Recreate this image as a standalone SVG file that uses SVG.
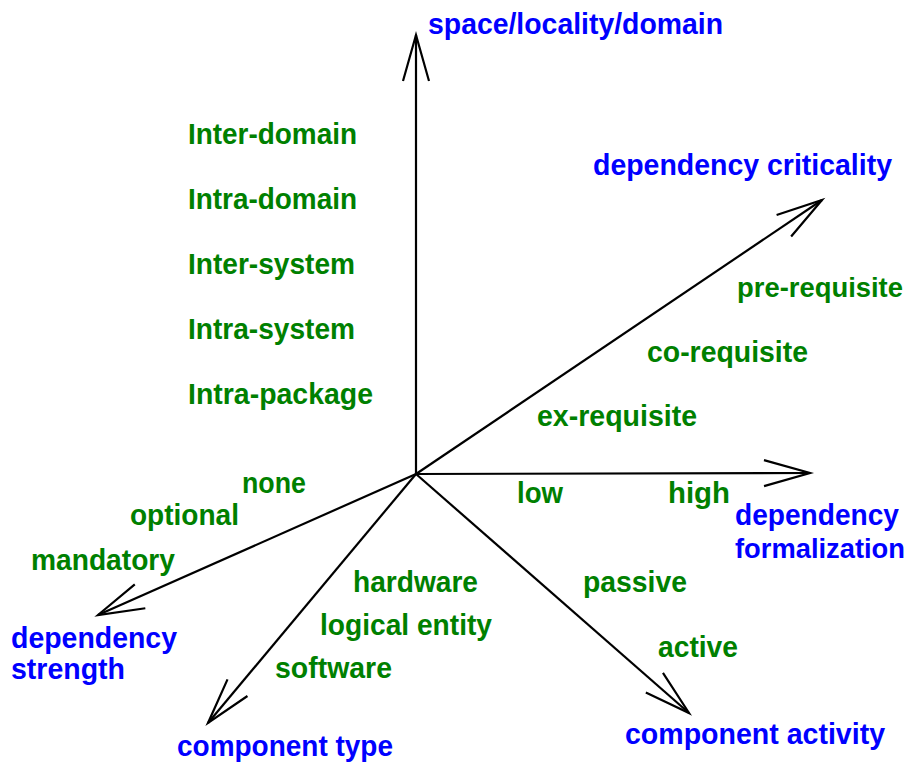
<svg xmlns="http://www.w3.org/2000/svg" width="912" height="766" viewBox="0 0 912 766">
<style>
text{font-family:"Liberation Sans",Arial,sans-serif;font-weight:bold;font-size:30px}
.ax{fill:#0000ff}
.v{fill:#008000}
.sm{font-size:28px}
.c line{stroke:#000;stroke-width:2.2;fill:none}
</style>
<defs>
<marker id="ah" markerUnits="userSpaceOnUse" markerWidth="60" markerHeight="40" viewBox="-50 -20 60 40" refX="0" refY="0" orient="auto">
<path d="M-46,-13 L0,0 L-46,13" fill="none" stroke="#000" stroke-width="2.2"/>
</marker>
</defs>
<rect width="912" height="766" fill="#fff"/>
<g id="connectors" class="c">
<line x1="416" y1="474" x2="416" y2="35" marker-end="url(#ah)"/>
<line x1="416" y1="474" x2="810" y2="473" marker-end="url(#ah)"/>
<line x1="416" y1="474" x2="822" y2="200" marker-end="url(#ah)"/>
<line x1="416" y1="474" x2="98" y2="615" marker-end="url(#ah)"/>
<line x1="416" y1="474" x2="208" y2="723" marker-end="url(#ah)"/>
<line x1="416" y1="474" x2="689" y2="713" marker-end="url(#ah)"/>
</g>
<g id="axis-space">
<text class="ax" x="428" y="34" textLength="295" lengthAdjust="spacingAndGlyphs">space/locality/domain</text>
<text class="v" x="188" y="144" textLength="169" lengthAdjust="spacingAndGlyphs">Inter-domain</text>
<text class="v" x="188" y="209" textLength="169" lengthAdjust="spacingAndGlyphs">Intra-domain</text>
<text class="v" x="188" y="274" textLength="167" lengthAdjust="spacingAndGlyphs">Inter-system</text>
<text class="v" x="188" y="339" textLength="167" lengthAdjust="spacingAndGlyphs">Intra-system</text>
<text class="v" x="188" y="404" textLength="185" lengthAdjust="spacingAndGlyphs">Intra-package</text>
</g>
<g id="axis-criticality">
<text class="ax" x="593" y="175" textLength="299" lengthAdjust="spacingAndGlyphs">dependency criticality</text>
<text class="v sm" x="737" y="297" textLength="166" lengthAdjust="spacingAndGlyphs">pre-requisite</text>
<text class="v" x="647" y="362" textLength="161" lengthAdjust="spacingAndGlyphs">co-requisite</text>
<text class="v" x="537" y="426" textLength="160" lengthAdjust="spacingAndGlyphs">ex-requisite</text>
</g>
<g id="axis-formalization">
<text class="ax" x="735" y="525" textLength="164" lengthAdjust="spacingAndGlyphs">dependency</text>
<text class="ax sm" x="735" y="558" textLength="170" lengthAdjust="spacingAndGlyphs">formalization</text>
<text class="v" x="517" y="503" textLength="46" lengthAdjust="spacingAndGlyphs">low</text>
<text class="v" x="668" y="503" textLength="62" lengthAdjust="spacingAndGlyphs">high</text>
</g>
<g id="axis-strength">
<text class="ax" x="11" y="648" textLength="166" lengthAdjust="spacingAndGlyphs">dependency</text>
<text class="ax" x="11" y="679" textLength="114" lengthAdjust="spacingAndGlyphs">strength</text>
<text class="v" x="242" y="493" textLength="64" lengthAdjust="spacingAndGlyphs">none</text>
<text class="v" x="130" y="525" textLength="109" lengthAdjust="spacingAndGlyphs">optional</text>
<text class="v" x="31" y="570" textLength="144" lengthAdjust="spacingAndGlyphs">mandatory</text>
</g>
<g id="axis-type">
<text class="ax" x="177" y="756" textLength="216" lengthAdjust="spacingAndGlyphs">component type</text>
<text class="v" x="353" y="592" textLength="125" lengthAdjust="spacingAndGlyphs">hardware</text>
<text class="v" x="320" y="635" textLength="172" lengthAdjust="spacingAndGlyphs">logical entity</text>
<text class="v" x="275" y="678" textLength="117" lengthAdjust="spacingAndGlyphs">software</text>
</g>
<g id="axis-activity">
<text class="ax" x="625" y="744" textLength="260" lengthAdjust="spacingAndGlyphs">component activity</text>
<text class="v" x="583" y="592" textLength="104" lengthAdjust="spacingAndGlyphs">passive</text>
<text class="v" x="658" y="657" textLength="80" lengthAdjust="spacingAndGlyphs">active</text>
</g>
</svg>
